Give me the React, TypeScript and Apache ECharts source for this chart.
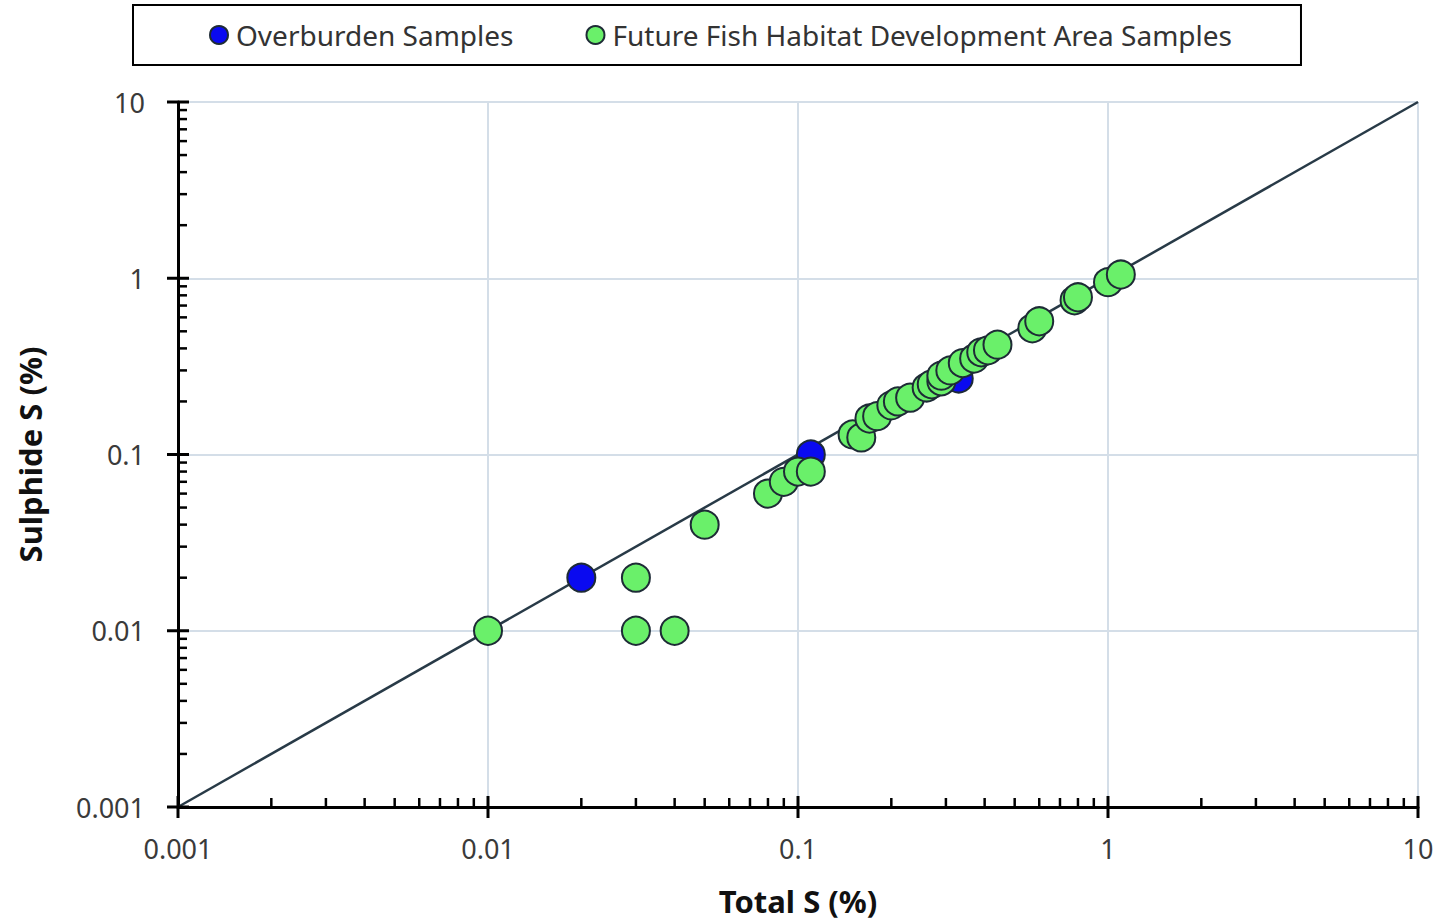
import React, { useEffect, useRef } from "react";
import * as echarts from "echarts";

const overburden: number[][] = [
  [0.02, 0.02],
  [0.11, 0.1],
  [0.33, 0.27],
];

const fishHabitat: number[][] = [
  [0.01, 0.01],
  [0.03, 0.02],
  [0.03, 0.01],
  [0.04, 0.01],
  [0.05, 0.04],
  [0.08, 0.06],
  [0.09, 0.07],
  [0.1, 0.08],
  [0.11, 0.08],
  [0.15, 0.13],
  [0.16, 0.125],
  [0.17, 0.16],
  [0.18, 0.165],
  [0.2, 0.19],
  [0.21, 0.2],
  [0.23, 0.21],
  [0.26, 0.24],
  [0.27, 0.25],
  [0.29, 0.26],
  [0.29, 0.28],
  [0.31, 0.3],
  [0.34, 0.33],
  [0.37, 0.35],
  [0.39, 0.38],
  [0.41, 0.39],
  [0.44, 0.42],
  [0.57, 0.52],
  [0.6, 0.57],
  [0.78, 0.75],
  [0.8, 0.78],
  [1.0, 0.95],
  [1.1, 1.05],
];

const oneToOne: number[][] = [
  [0.001, 0.001],
  [10, 10],
];

const majorTicks: number[] = [0.001, 0.01, 0.1, 1, 10];
const decades: number[] = [0.001, 0.01, 0.1, 1];
const minorMultipliers: number[] = [2, 3, 4, 5, 6, 7, 8, 9];

const AXIS_MIN = 0.001;
const AXIS_MAX = 10;

function buildTicks(): number[][] {
  const out: number[][] = majorTicks.map((v) => [v, v, 1]);
  decades.forEach((d) => {
    minorMultipliers.forEach((m) => {
      const v = parseFloat((m * d).toPrecision(3));
      out.push([v, v, 0]);
    });
  });
  return out;
}

const FONT = "'Noto Sans', 'Open Sans', sans-serif";

export default function App() {
  const ref = useRef<HTMLDivElement>(null);

  useEffect(() => {
    if (!ref.current) return;
    const chart = echarts.init(ref.current, undefined, { renderer: "svg" });
    const ticks = buildTicks();

    const logAxisCommon = {
      type: "log" as const,
      logBase: 10,
      min: AXIS_MIN,
      max: AXIS_MAX,
      axisLine: { show: true, lineStyle: { color: "#000", width: 3 } },
      axisTick: { show: false },
      minorTick: { show: false },
      splitLine: { show: true, lineStyle: { color: "#d4dee8", width: 2 } },
      axisLabel: {
        color: "#3a3a3a",
        fontSize: 27,
        fontFamily: FONT,
        formatter: (v: number) => String(parseFloat(v.toPrecision(3))),
      },
    };

    chart.setOption({
      animation: false,
      backgroundColor: "#fff",
      textStyle: { fontFamily: FONT },
      grid: { left: 178, right: 24, top: 102, bottom: 115, containLabel: false },
      legend: {
        left: 133,
        top: 5,
        orient: "horizontal",
        padding: [16, 69, 16, 76],
        borderColor: "#000",
        borderWidth: 2,
        itemGap: 72,
        itemWidth: 18,
        itemHeight: 18,
        icon: "circle",
        textStyle: { fontSize: 28, color: "#333", fontFamily: FONT, padding: [0, 0, 0, 3] },
        data: ["Overburden Samples", "Future Fish Habitat Development Area Samples"],
      },
      xAxis: {
        ...logAxisCommon,
        name: "Total S (%)",
        nameLocation: "middle",
        nameGap: 78,
        nameTextStyle: { fontSize: 31, fontWeight: "bold", color: "#111", fontFamily: FONT },
        axisLabel: { ...logAxisCommon.axisLabel, margin: 28 },
      },
      yAxis: {
        ...logAxisCommon,
        name: "Sulphide S (%)",
        nameLocation: "middle",
        nameGap: 133,
        nameTextStyle: { fontSize: 31, fontWeight: "bold", color: "#111", fontFamily: FONT },
        axisLabel: { ...logAxisCommon.axisLabel, margin: 33 },
      },
      series: [
        {
          name: "1:1",
          type: "line",
          data: oneToOne,
          symbol: "none",
          silent: true,
          lineStyle: { color: "#283a47", width: 2.5 },
          z: 1,
        },
        {
          name: "xTicks",
          type: "custom",
          clip: false,
          silent: true,
          z: 5,
          data: ticks,
          renderItem: (params: any, api: any) => {
            const v = api.value(0);
            const major = api.value(2) === 1;
            const p = api.coord([v, AXIS_MIN]);
            return {
              type: "line",
              shape: {
                x1: p[0],
                y1: p[1] - (major ? 11 : 9),
                x2: p[0],
                y2: p[1] + (major ? 11 : 0),
              },
              style: { stroke: "#000", lineWidth: major ? 3 : 2.5 },
            };
          },
        },
        {
          name: "yTicks",
          type: "custom",
          clip: false,
          silent: true,
          z: 5,
          data: ticks,
          renderItem: (params: any, api: any) => {
            const v = api.value(1);
            const major = api.value(2) === 1;
            const p = api.coord([AXIS_MIN, v]);
            return {
              type: "line",
              shape: {
                x1: p[0] - (major ? 11 : 0),
                y1: p[1],
                x2: p[0] + (major ? 11 : 9),
                y2: p[1],
              },
              style: { stroke: "#000", lineWidth: major ? 3 : 2.5 },
            };
          },
        },
        {
          name: "Overburden Samples",
          type: "scatter",
          data: overburden,
          symbol: "circle",
          symbolSize: 28,
          itemStyle: { color: "#0a0af0", borderColor: "#1e2b36", borderWidth: 2, opacity: 1 },
          z: 3,
        },
        {
          name: "Future Fish Habitat Development Area Samples",
          type: "scatter",
          data: fishHabitat,
          symbol: "circle",
          symbolSize: 28,
          itemStyle: { color: "#6af06a", borderColor: "#1e2b36", borderWidth: 2, opacity: 1 },
          z: 4,
        },
      ],
    });

    return () => {
      chart.dispose();
    };
  }, []);

  return (
    <div
      ref={ref}
      style={{ position: "fixed", left: 0, top: 0, width: 1442, height: 922, background: "#fff" }}
    />
  );
}
